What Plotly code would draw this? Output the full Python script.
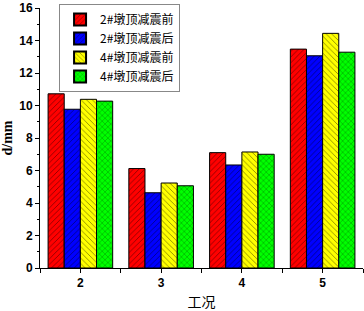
import plotly.graph_objects as go

cases = [2, 3, 4, 5]
tick_labels = ["2", "3", "4", "5"]
names = ["2#墩顶减震前", "2#墩顶减震后", "4#墩顶减震前", "4#墩顶减震后"]
s_2_before = [10.72, 6.12, 7.10, 13.47]
s_2_after = [9.77, 4.63, 6.34, 13.06]
s_4_before = [10.38, 5.23, 7.14, 14.44]
s_4_after = [10.27, 5.06, 7.00, 13.28]
series = [s_2_before, s_2_after, s_4_before, s_4_after]
colors = ["#ff0000", "#0000ff", "#ffff00", "#00ff00"]
shapes = ["/", "/", "\\", "x"]

fig = go.Figure()
for nm, vals, c, sh in zip(names, series, colors, shapes):
    fig.add_trace(go.Bar(
        x=cases, y=vals, name=nm,
        marker=dict(color=c, line=dict(color="#000000", width=1),
                    pattern=dict(shape=sh, fgcolor="#000000", size=4, solidity=0.2)),
    ))

fig.update_layout(
    width=364, height=311,
    margin=dict(l=40, r=1, t=8, b=43),
    paper_bgcolor="white", plot_bgcolor="white",
    barmode="group", bargap=0.2, bargroupgap=0,
    font=dict(family="Arial, Liberation Sans", color="black"),
    legend=dict(x=0.059, y=1.015, xanchor="left", yanchor="top",
                bordercolor="#888888", borderwidth=1, bgcolor="white",
                font=dict(family="Noto Sans CJK SC", size=12),
                tracegroupgap=0, itemsizing="constant", itemwidth=30),
    xaxis=dict(range=[1.5, 5.5], tickvals=cases, ticktext=tick_labels,
               showline=True, linecolor="black", linewidth=1,
               ticks="outside", ticklen=4, tickcolor="black",
               showgrid=False, zeroline=False, automargin=False,
               tickfont=dict(size=12, family="Arial", weight="bold"),
               minor=dict(tickvals=[1.5, 2.5, 3.5, 4.5, 5.5], ticks="outside", ticklen=4, tickcolor="black"),
               title=dict(text="工况", font=dict(family="Noto Sans CJK SC", size=14), standoff=11)),
    yaxis=dict(range=[0, 16], dtick=2, tick0=0,
               showline=True, linecolor="black", linewidth=1,
               ticks="outside", ticklen=4, tickcolor="black",
               showgrid=False, zeroline=False, automargin=False,
               tickfont=dict(size=12, family="Arial", weight="bold"),
               minor=dict(dtick=1, ticks="outside", ticklen=2, tickcolor="black"),
               title=dict(text="d/mm", font=dict(family="Liberation Serif", size=14, weight="bold"), standoff=4)),
)

fig.write_html("out.html", config={"displayModeBar": False},
               post_script="document.body.style.margin='0';document.body.style.overflow='hidden';")
